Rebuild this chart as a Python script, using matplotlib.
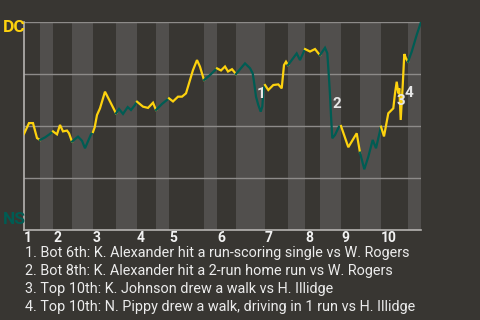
import matplotlib
matplotlib.use('Agg')
import matplotlib.pyplot as plt
import numpy as np

# game progress (arbitrary play units) and DC win probability (%)
progress = [0, 5, 9, 13, 16,
            21, 26, 29,
            33, 36, 39, 43, 45, 48,
            54, 58, 61, 67, 69,
            70.7, 73, 76, 81, 86, 92,
            95, 99, 103.7, 107, 111, 113,
            119, 124, 129, 132,
            138, 145,
            149, 154, 158, 162, 165, 169, 173, 176, 180,
            186, 193,
            197, 201, 204, 208, 212,
            221, 226, 228.7, 230, 232, 234.3, 236.7, 238.3, 239.5, 241,
            244.3, 249.3, 254.3, 257.7, 260, 262, 264,
            272.7, 276, 281,
            286, 291, 294.3, 296,
            301, 303.3, 305, 306, 307, 308.3, 311, 315, 317,
            324.3, 332.7, 336,
            340.3, 344.3, 348.7, 352, 357,
            360, 364.3, 369.3, 371, 372.7, 374.3, 375.3, 376.7, 378.7, 380.3, 382, 384,
            387.7, 392.7, 397]
win_prob = [46.2, 51.4, 51.4, 44.2, 43.3,
            44.5, 46.2, 47.4,
            46.0, 50.5, 47.4, 47.8, 46.5, 42.5,
            44.9, 42.9, 39.3, 46.0, 47.1,
            49.4, 55.3, 58.5, 66.5, 61.8, 56.1,
            58.2, 55.8, 59.1, 57.7, 60.1, 61.7,
            59.3, 58.7, 61.2, 57.7,
            60.6, 63.3,
            61.8, 64.1, 64.1, 65.7, 70.5, 76.9, 81.7, 78.5, 72.1,
            74.5, 77.7,
            76.7, 78.6, 76.2, 77.3, 75.0,
            80.1, 77.8, 75.3, 71.3, 64.1, 60.1, 56.9, 59.3, 67.3, 69.7,
            67.3, 69.7, 70.0, 68.1, 79.3, 80.9, 79.3,
            84.9, 81.7, 87.0,
            85.8, 87.0, 85.0, 84.1,
            87.6, 85.0, 72.9, 64.9, 55.0, 44.1, 45.7, 49.7, 50.0,
            39.8, 46.5, 37.2,
            29.2, 35.2, 43.3, 39.3, 49.7,
            45.0, 56.1, 58.5, 65.7, 71.3, 65.7, 68.1, 52.9, 69.4, 84.6, 82.5, 80.9,
            85.7, 93.8, 100.0]

# half-inning boundaries (top, bottom, top, ...)
half_bounds = [0, 16, 29, 48, 69, 92, 113, 132, 145, 180, 193,
               212, 241, 264, 281, 296, 317, 336, 357, 384, 397]
inning_labels = ['1', '2', '3', '4', '5', '6', '7', '8', '9', '10']

# key plays: label, progress, win prob where label sits
note_ids = ['1', '2', '3', '4']
note_x = [237, 313, 377, 385]
note_y = [65.4, 60.6, 62.0, 65.9]
note_texts = [
    "1. Bot 6th: K. Alexander hit a run-scoring single vs W. Rogers",
    "2. Bot 8th: K. Alexander hit a 2-run home run vs W. Rogers",
    "3. Top 10th: K. Johnson drew a walk vs H. Illidge",
    "4. Top 10th: N. Pippy drew a walk, driving in 1 run vs H. Illidge",
]

BG = '#383632'
STRIPE = '#514f4d'
YELLOW = '#fdd20e'
TEAL = '#005c53'

plt.rcParams['font.family'] = ['Roboto', 'DejaVu Sans']

fig = plt.figure(figsize=(4.8, 3.2), dpi=100, facecolor=BG)
ax = fig.add_axes([24 / 480, 90 / 320, 397 / 480, 208 / 320])
ax.set_facecolor(BG)

x = np.array(progress)
y = np.array(win_prob)
for i in range(len(half_bounds) - 1):
    a, b = half_bounds[i], half_bounds[i + 1]
    bottom_half = i % 2 == 1
    if bottom_half:
        ax.axvspan(a, b, color=STRIPE, lw=0, zorder=0)
    m = (x >= a) & (x <= b)
    ax.plot(x[m], y[m], color=TEAL if bottom_half else YELLOW,
            lw=1.6, zorder=3, solid_joinstyle='miter')

for gy in [25, 50, 75, 100]:
    ax.axhline(gy, color='#8d8b89', lw=1, zorder=1)

for t, nx, ny in zip(note_ids, note_x, note_y):
    ax.text(nx, ny, t, color='#e6e6e6', fontsize=11, fontweight='bold',
            ha='center', va='center', zorder=4)

ax.set_xlim(0, 397)
ax.set_ylim(0, 100)
ax.set_yticks([])
ax.set_xticks(half_bounds[0:-1:2])
ax.set_xticklabels(inning_labels, ha='left', color='#f2f2f2',
                   fontsize=10, fontweight='bold')
ax.tick_params(axis='x', length=0, pad=1)
for s in ['top', 'right']:
    ax.spines[s].set_visible(False)
for s in ['left', 'bottom']:
    ax.spines[s].set_color('#b5b3b1')
    ax.spines[s].set_linewidth(1.2)

fig.text(3 / 480, 1 - 28 / 320, 'DC', color=YELLOW, fontsize=12.5,
         fontweight='bold', va='center', ha='left')
fig.text(3 / 480, 1 - 220 / 320, 'NS', color=TEAL, fontsize=12.5,
         fontweight='bold', va='center', ha='left')

for i, line in enumerate(note_texts):
    fig.text(25 / 480, 1 - (253 + i * 18) / 320, line, color='#ececec',
             fontsize=10.4, va='center', ha='left')

fig.savefig('out.png', dpi=100, facecolor=BG)
